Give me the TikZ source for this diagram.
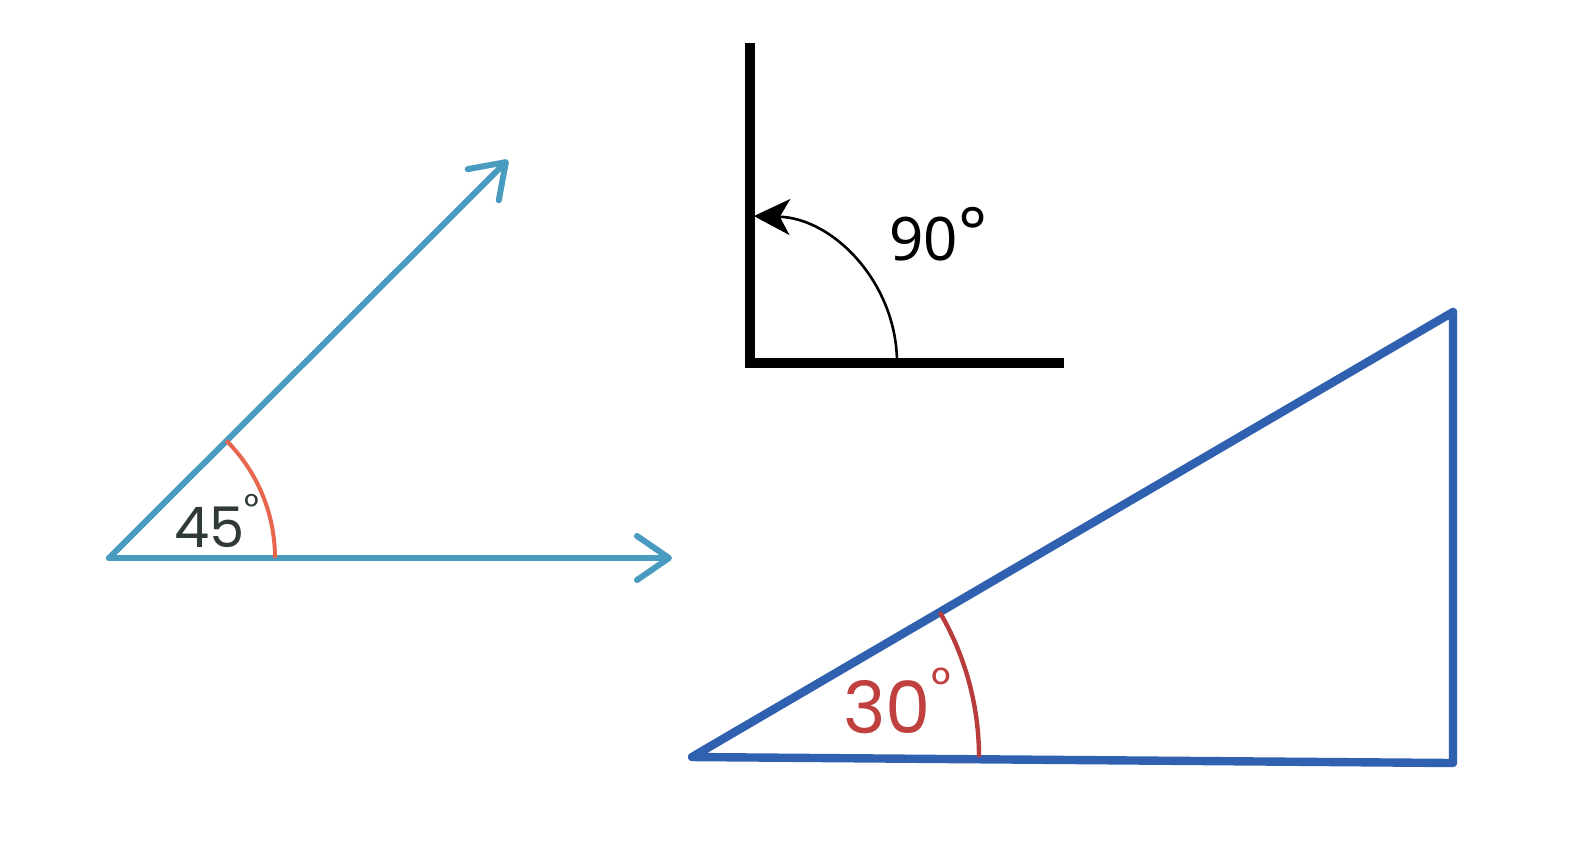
\documentclass[tikz,border=0pt]{standalone}
\usepackage{fontspec}
\setmainfont{Noto Sans}
\newfontfamily\handfont{Poppins}
\usetikzlibrary{arrows.meta}
\definecolor{raycol}{HTML}{4A9BC0}
\definecolor{arcorange}{HTML}{E8654E}
\definecolor{textgray}{HTML}{2F3A37}
\definecolor{tricol}{HTML}{2F61B0}
\definecolor{arcred}{HTML}{B83C3C}
\definecolor{textred}{HTML}{C0403F}
\tikzset{
  ray/.style={draw=raycol, line width=3pt, line cap=round,
    -{Straight Barb[length=16pt,width=22pt,line cap=round,line join=round]}},
  arcfortyfive/.style={draw=arcorange, line width=2pt},
  frame/.style={draw=black, line width=5pt, line join=miter},
  arcninety/.style={draw=black, line width=1.3pt, -{Stealth[length=18pt,width=18pt,inset=5pt]}},
  tri/.style={draw=tricol, line width=4.2pt, line join=round, line cap=round},
  arcthirty/.style={draw=arcred, line width=2.2pt},
  lbl/.style={inner sep=0pt, anchor=base west},
}
\begin{document}
\begin{tikzpicture}[x=0.5pt,y=-0.5pt]
\useasboundingbox (0,0) rectangle (1593,843);
\fill[white] (0,0) rectangle (1593,843);

% 45 degree angle
\coordinate (O1) at (109,558);
\coordinate (T1) at (672,558);
\coordinate (T2) at (508,160);
\draw[ray] (O1) -- (T1);
\draw[ray] (O1) -- (T2);
\draw[arcfortyfive] (O1) ++(166,0) arc[start angle=0,end angle=-45,radius=166];
\node[lbl, text=textgray, font=\handfont\fontsize{28}{28}\selectfont] (l45) at (174,547) {45\raisebox{0.9ex}{\fontsize{18}{18}\selectfont°}};

% 90 degree angle
\coordinate (O2) at (750,363);
\coordinate (V2) at (750,43);
\coordinate (H2) at (1064,363);
\draw[frame] (V2) -- (O2) -- (H2);
\draw[arcninety] (O2) ++(147,0) arc[start angle=0,end angle=-88.5,radius=147];
\node[lbl, text=black, font=\fontsize{30}{30}\selectfont] (l90) at (889,260) {90\raisebox{0.1ex}{\fontsize{34}{34}\selectfont°}};

% 30 degree triangle
\coordinate (A) at (692,757);
\coordinate (B) at (1453,312);
\coordinate (C) at (1453,763);
\draw[tri] (A) -- (B) -- (C) -- cycle;
\draw[arcthirty] (A) ++(287,0) arc[start angle=0,end angle=-30.3,radius=287];
\node[lbl, text=textred, font=\handfont\fontsize{36}{36}\selectfont] (l30) at (843,733) {30\raisebox{0.8ex}{\fontsize{24}{24}\selectfont°}};
\end{tikzpicture}
\end{document}
